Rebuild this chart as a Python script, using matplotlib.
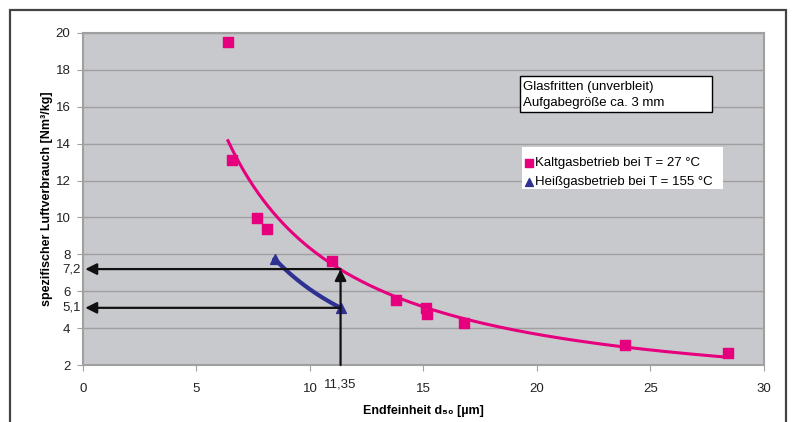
import numpy as np
import matplotlib.pyplot as plt
from matplotlib.patches import Rectangle

plt.rcParams['font.family'] = ['Liberation Sans', 'DejaVu Sans']

# data
kalt_x = [6.39, 6.56, 7.67, 8.1, 10.97, 13.79, 15.1, 15.15, 16.8, 23.9, 28.4]
kalt_y = [19.5, 13.1, 9.95, 9.38, 7.64, 5.52, 5.09, 4.77, 4.28, 3.08, 2.65]
heiss_x = [8.45, 11.35]
heiss_y = [7.75, 5.1]
read_x = 11.35
read_y = [7.2, 5.1]

x_ticks = [0, 5, 10, 15, 20, 25, 30]
y_ticks = [2, 4, 6, 8, 10, 12, 14, 16, 18, 20]

pink = '#E6007E'
blue = '#2E3192'
fs = 9.5

fig = plt.figure(figsize=(7.94, 4.22), dpi=100)
ax = fig.add_axes([0.1045, 0.135, 0.8575, 0.787])

# outer frame
fig.patches.append(Rectangle((10 / 794, -0.05), 776 / 794, 1.05 - 10 / 422,
                             transform=fig.transFigure, fill=False,
                             edgecolor='#444444', lw=1.6))

ax.set_facecolor('#C8C9CD')
ax.set_xlim(0, 30)
ax.set_ylim(2, 20)
ax.set_xticks(x_ticks)
ax.set_yticks(y_ticks)
ax.grid(axis='y', color='#A0A0A0', lw=1)
ax.set_axisbelow(True)
for s in ax.spines.values():
    s.set_color('#A0A0A0')
    s.set_linewidth(1.5)
ax.tick_params(colors='#A0A0A0', labelcolor='#222222', labelsize=fs, length=4)
ax.tick_params(axis='x', pad=9)
ax.tick_params(axis='y', pad=5)

# power trendlines
bk, lk = np.polyfit(np.log(kalt_x), np.log(kalt_y), 1)
xs = np.linspace(min(kalt_x), max(kalt_x), 200)
ax.plot(xs, np.exp(lk) * xs ** bk, color=pink, lw=2.2, zorder=3)

bh, lh = np.polyfit(np.log(heiss_x), np.log(heiss_y), 1)
xh = np.linspace(min(heiss_x), max(heiss_x), 100)
ax.plot(xh, np.exp(lh) * xh ** bh, color=blue, lw=3, zorder=3)

ax.scatter(kalt_x, kalt_y, marker='s', s=45, color=pink, zorder=4,
           label='Kaltgasbetrieb bei T = 27 °C')
ax.scatter(heiss_x, heiss_y, marker='^', s=50, color=blue, zorder=4,
           label='Heißgasbetrieb bei T = 155 °C')

# reading arrows
arr = dict(arrowstyle='-|>', color='#111111', lw=1.6, mutation_scale=17,
           shrinkA=0, shrinkB=0)
for yv in read_y:
    ax.annotate('', xy=(0.1, yv), xytext=(read_x, yv), arrowprops=arr,
                zorder=5)
ax.annotate('', xy=(read_x, read_y[0]), xytext=(read_x, 2),
            arrowprops=arr, zorder=5)

for yv, t in zip(read_y, ['7,2', '5,1']):
    ax.text(-0.003, yv, t, ha='right', va='center', fontsize=fs,
            color='#222222', transform=ax.get_yaxis_transform())
ax.text(read_x, -0.042, '11,35', ha='center', va='top', fontsize=fs,
        color='#222222', transform=ax.get_xaxis_transform())

ax.set_xlabel('Endfeinheit d₅₀ [µm]', fontsize=9, fontweight='bold',
              labelpad=7)
ax.set_ylabel('spezifischer Luftverbrauch [Nm³/kg]', fontsize=9,
              fontweight='bold', labelpad=2)

# info box
ax.add_patch(Rectangle((0.6417, 0.762), 0.282, 0.108, transform=ax.transAxes,
                       fc='white', ec='black', lw=1, zorder=6))
ax.text(0.646, 0.837, 'Glasfritten (unverbleit)', transform=ax.transAxes,
        fontsize=fs, va='center', ha='left', zorder=7)
ax.text(0.646, 0.789, 'Aufgabegröße ca. 3 mm', transform=ax.transAxes,
        fontsize=fs, va='center', ha='left', zorder=7)

# legend
ax.add_patch(Rectangle((0.6446, 0.530), 0.295, 0.1266, transform=ax.transAxes,
                       fc='white', ec='none', zorder=6))
leg = ax.legend(loc='center left', bbox_to_anchor=(0.641, 0.579), fontsize=fs,
                frameon=False, handletextpad=0.0, borderpad=0.2,
                labelspacing=0.5, handlelength=1.0, borderaxespad=0,
                markerscale=0.8)
leg.set_zorder(7)

plt.savefig('out.png', dpi=100)
